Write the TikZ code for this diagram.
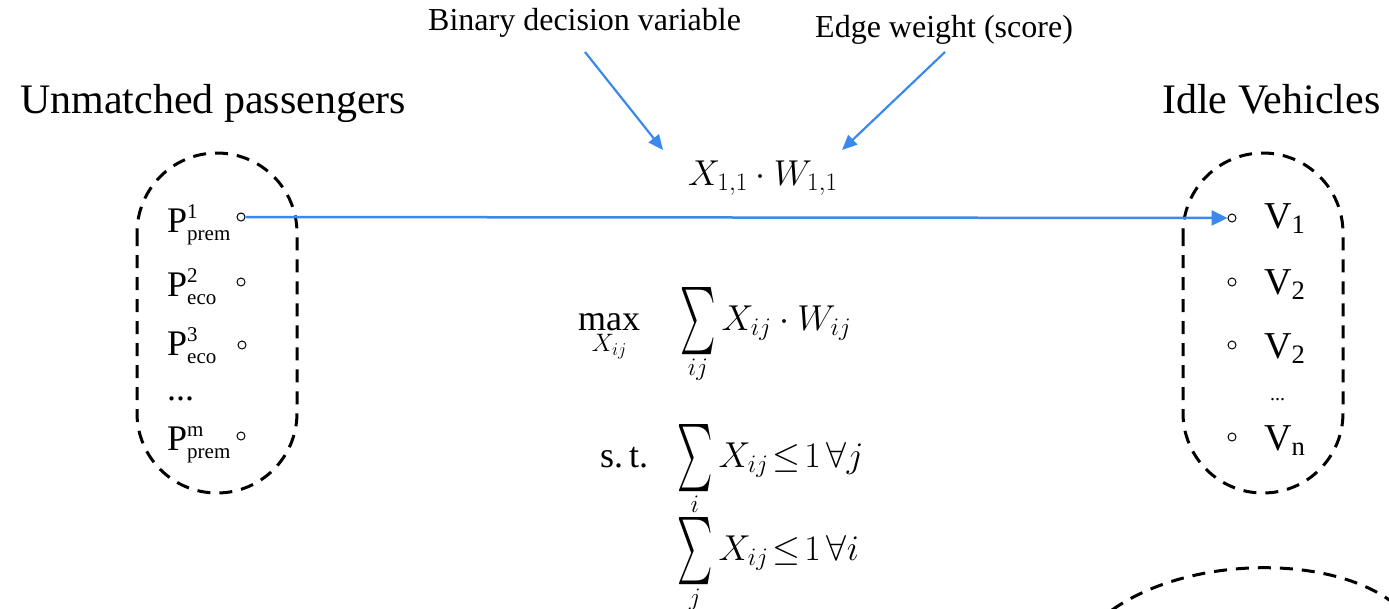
\documentclass[tikz,border=0pt]{standalone}
\usepackage{fix-cm}
\usepackage{amsmath}
\usepackage{fontspec}
\setmainfont{Liberation Serif}
\usetikzlibrary{arrows.meta}
\definecolor{linkblue}{RGB}{59,137,237}
\newcommand\sbs{\fontsize{21}{21}\selectfont}
\newcommand\plab[2]{\text{P}^{\text{\sbs #1}}_{\text{\sbs #2}}}
\newcommand\bsum{\mathop{\vcenter{\hbox{\scalebox{1.35}[2.7]{$\textstyle\sum$}}}}\limits}
\tikzset{
  txt/.style={inner sep=0pt, anchor=base west},
  head/.style={txt, font=\fontsize{42}{48}\selectfont},
  note/.style={txt, font=\fontsize{32}{36}\selectfont},
  lab/.style={txt, font=\fontsize{36}{40}\selectfont},
  vlab/.style={txt, font=\fontsize{38}{42}\selectfont},
  mth/.style={txt, font=\fontsize{36}{40}\selectfont},
  dot/.style={circle, draw, inner sep=0pt, minimum size=8pt, line width=1pt},
  grp/.style={draw, line width=3pt, dash pattern=on 13pt off 9pt, rounded corners=80pt},
  bluelink/.style={draw=linkblue, line width=2.5pt, -{Triangle[length=16pt,width=15pt]}},
  bluenote/.style={draw=linkblue, line width=2.2pt, -{Triangle[length=15pt,width=13pt]}}
}
\begin{document}
\begin{tikzpicture}[x=1pt, y=-1pt]
\useasboundingbox (0,0) rectangle (1389,608);
% headings
\node[head] (hl) at (20,113) {Unmatched passengers};
\node[head] (hr) at (1162,113) {Idle Vehicles};
\node[note] (nb) at (428,30) {Binary decision variable};
\node[note] (ne) at (815,37) {Edge weight (score)};
% groups
\draw[grp] (137,153) rectangle (297,493);
\draw[grp] (1183,153) rectangle (1343,493);
% left labels
\node[lab] (p1) at (167,232) {$\plab{1}{prem}$};
\node[lab] (p2) at (167,296) {$\plab{2}{eco}$};
\node[lab] (p3) at (167,355) {$\plab{3}{eco}$};
\node[lab] (pd) at (167,400) {...};
\node[lab] (pm) at (167,450) {$\plab{m}{prem}$};
\node[dot] (lc1) at (241,217) {};
\node[dot] (lc2) at (241,282) {};
\node[dot] (lc3) at (242,345) {};
\node[dot] (lcm) at (241,436) {};
% right labels
\node[dot] (rc1) at (1232,218) {};
\node[dot] (rc2) at (1232,282) {};
\node[dot] (rc3) at (1232,345) {};
\node[dot] (rcn) at (1232,437) {};
\node[vlab] (v1) at (1264,228) {V$_{\text{1}}$};
\node[vlab] (v2) at (1264,294) {V$_{\text{2}}$};
\node[vlab] (v3) at (1264,358) {V$_{\text{2}}$};
\node[txt, font=\fontsize{20}{20}\selectfont] (vd) at (1270,400) {...};
\node[vlab] (vn) at (1264,450) {V$_{\text{n}}$};
% edge
\draw[bluelink] (lc1.east) -- (rc1.west);
% math
\node[mth] (xw) at (688,185) {$X_{1,1}\cdot W_{1,1}$};
\node[mth] (obj) at (578,330) {$\displaystyle\max_{X_{ij}}\hspace{34pt}\bsum_{ij}X_{ij}\cdot W_{ij}$};
\node[mth] (st) at (600,467) {s.\,t.};
\node[mth] (c1) at (677,467) {$\bsum_{i}X_{ij}\!\le\! 1\,\forall j$};
\node[mth] (c2) at (677,560) {$\bsum_{j}X_{ij}\!\le\! 1\,\forall i$};
% note arrows
\coordinate (nbs) at (585,52);
\coordinate (nbt) at (663,150);
\coordinate (nes) at (945,52);
\coordinate (net) at (842,150);
\draw[bluenote] (nbs) -- (nbt);
\draw[bluenote] (nes) -- (net);
% partial group bottom right
\coordinate (ga) at (1112,610);
\coordinate (gb) at (1392,602);
\draw[line width=3pt, dash pattern=on 13pt off 9pt] (ga) .. controls (1190,555) and (1330,555) .. (gb);
\end{tikzpicture}
\end{document}
